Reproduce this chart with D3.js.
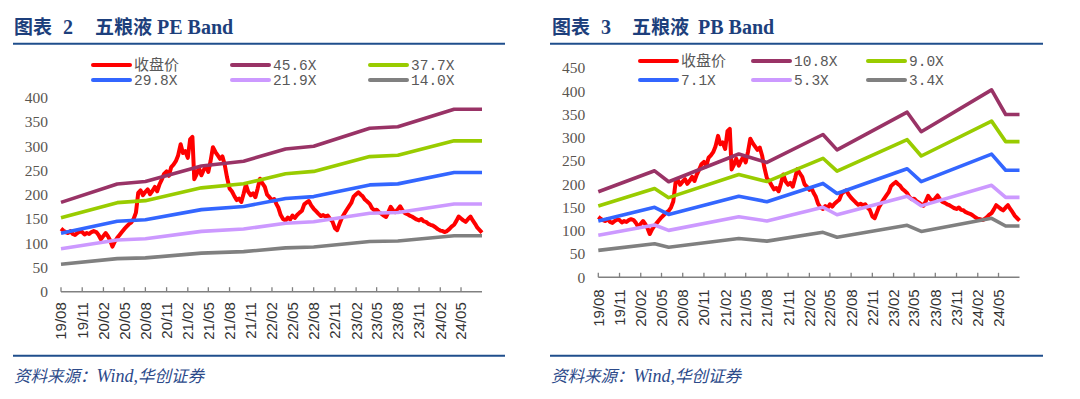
<!DOCTYPE html>
<html>
<head>
<meta charset="utf-8">
<script src="https://cdn.jsdelivr.net/npm/d3@7"></script>
<style>
  body { margin: 0; background: #fff; }
  svg { display: block; }
</style>
</head>
<body>
<svg id="chart" width="1080" height="399"></svg>
<script>
// closing price, three readings a month (1st, 11th, 21st) and the last day
const closeStart = '2019-08-01';
const closeEnd = '2024-07-31';
const closePrice = [
  130, 126, 123, 121, 125, 119, 117, 121, 124, 123, 118, 121,
  119, 123, 125, 123, 117, 108, 115, 121, 114, 106, 93, 103,
  111, 117, 123, 129, 134, 139, 143, 150, 163, 204, 209, 199,
  206, 211, 201, 208, 216, 207, 221, 231, 243, 248, 239, 257,
  262, 269, 281, 304, 286, 290, 276, 314, 319, 232, 242, 255,
  240, 251, 259, 247, 270, 298, 288, 281, 274, 279, 262, 236,
  213, 207, 198, 189, 192, 185, 202, 221, 206, 199, 203, 195,
  213, 233, 224, 216, 200, 195, 188, 191, 180, 173, 158, 150,
  147, 153, 149, 157, 152, 158, 163, 167, 180, 184, 187, 178,
  171, 166, 161, 156, 158, 155, 157, 150, 145, 131, 127, 140,
  152, 160, 168, 176, 183, 196, 201, 205, 200, 197, 190, 186,
  181, 172, 168, 169, 164, 161, 157, 154, 164, 175, 168, 164,
  170, 176, 168, 162, 160, 157, 155, 152, 149, 147, 150, 145,
  144, 140, 138, 136, 133, 129, 126, 125, 123, 125, 129, 134,
  138, 146, 155, 151, 147, 144, 150, 155, 147, 140, 132, 127,
  122
];

// PE band: trailing EPS knots
const peEpsDates = ['2019-08-01', '2020-04-01', '2020-08-01', '2021-04-01', '2021-10-01',
  '2022-04-01', '2022-08-01', '2023-04-01', '2023-08-01', '2024-04-01', '2024-07-31'];
const peEps = [4.04, 4.87, 4.98, 5.68, 5.90, 6.45, 6.58, 7.39, 7.46, 8.25, 8.25];
const peMultiples = [45.6, 37.7, 29.8, 21.9, 14.0];

// PB band: book value per share knots
const pbBvpsDates = ['2019-08-01', '2020-04-01', '2020-06-01', '2021-04-01', '2021-08-01',
  '2022-04-01', '2022-06-01', '2023-04-01', '2023-06-01', '2024-04-01', '2024-06-01', '2024-07-31'];
const pbBvps = [17.04, 21.20, 19.03, 24.54, 22.87, 28.43, 25.37, 32.87, 28.98, 37.31, 32.41, 32.41];
const pbMultiples = [10.8, 9.0, 7.1, 5.3, 3.4];

const tickMonths = ['19/08', '19/11', '20/02', '20/05', '20/08', '20/11', '21/02', '21/05',
  '21/08', '21/11', '22/02', '22/05', '22/08', '22/11', '23/02', '23/05', '23/08', '23/11',
  '24/02', '24/05'];
const peTicks = [0, 50, 100, 150, 200, 250, 300, 350, 400];
const pbTicks = [0, 50, 100, 150, 200, 250, 300, 350, 400, 450];

const seriesColors = ['#ff0000', '#993366', '#99cc00', '#3366ff', '#cc99ff', '#808080'];
const priceLabel = '收盘价';

const parseDay = d3.timeParse('%Y-%m-%d');
const parseTick = d3.timeParse('%y/%m');
const start = parseDay(closeStart);

const closeData = closePrice.map((v, i) => {
  if (i === closePrice.length - 1) return { date: parseDay(closeEnd), value: v };
  const month = d3.timeMonth.offset(start, Math.floor(i / 3));
  return { date: d3.timeDay.offset(month, (i % 3) * 10), value: v };
});

const svg = d3.select('#chart');
const cjk = '"Noto Sans CJK SC", sans-serif';
const serif = '"Liberation Serif", "Times New Roman", serif';
const navy = '#1d3f7c';

function drawBand(cfg) {
  const g = svg.append('g');
  const x = d3.scaleTime()
    .domain([start, parseDay(closeEnd)])
    .range([cfg.x0, cfg.x1]);
  const y = d3.scaleLinear()
    .domain([0, d3.max(cfg.yTicks)])
    .range([cfg.y0, cfg.y1]);

  // title
  const title = g.append('text')
    .attr('y', 34)
    .attr('fill', navy)
    .attr('font-weight', 'bold');
  cfg.title.forEach((t) => {
    title.append('tspan')
      .attr('x', t.x)
      .attr('font-family', t.cjk ? cjk : serif)
      .attr('font-size', t.cjk ? 19 : 20)
      .text(t.text);
  });
  g.append('line')
    .attr('x1', cfg.ruleX0).attr('x2', cfg.ruleX1)
    .attr('y1', 43.7).attr('y2', 43.7)
    .attr('stroke', '#1f4e8c').attr('stroke-width', 2);
  g.append('line')
    .attr('x1', cfg.ruleX0).attr('x2', cfg.ruleX1)
    .attr('y1', 355.7).attr('y2', 355.7)
    .attr('stroke', '#1f4e8c').attr('stroke-width', 2);
  const src = g.append('text')
    .attr('x', cfg.ruleX0 + 1)
    .attr('y', 382)
    .attr('fill', '#2c4a8a')
    .attr('font-style', 'italic')
    .attr('font-size', 16.5);
  src.append('tspan').attr('font-family', cjk).text('资料来源：');
  src.append('tspan').attr('font-family', serif).attr('font-size', 18).text('Wind,');
  src.append('tspan').attr('font-family', cjk).text('华创证券');

  // y labels
  g.append('g').selectAll('text')
    .data(cfg.yTicks)
    .enter()
    .append('text')
    .attr('x', cfg.x0 - 13)
    .attr('y', d => y(d))
    .attr('dy', '0.35em')
    .attr('text-anchor', 'end')
    .attr('font-family', serif)
    .attr('font-size', 15.5)
    .attr('fill', '#5a5550')
    .text(d => d);

  // x axis
  g.append('line')
    .attr('x1', cfg.x0).attr('x2', cfg.x1)
    .attr('y1', cfg.y0).attr('y2', cfg.y0)
    .attr('stroke', '#808080').attr('stroke-width', 1.5);
  const ticks = tickMonths.map(parseTick);
  g.append('g').selectAll('line')
    .data(ticks)
    .enter()
    .append('line')
    .attr('x1', d => x(d)).attr('x2', d => x(d))
    .attr('y1', cfg.y0).attr('y2', cfg.y0 - 4.5)
    .attr('stroke', '#808080').attr('stroke-width', 1.3);
  g.append('g').selectAll('text')
    .data(ticks)
    .enter()
    .append('text')
    .attr('transform', d => `translate(${x(d)},${cfg.y0 + cfg.labelGap}) rotate(-90)`)
    .attr('dy', '0.36em')
    .attr('text-anchor', 'end')
    .attr('font-family', '"Liberation Sans", Arial, sans-serif')
    .attr('font-size', 15)
    .attr('fill', '#333')
    .text((d, i) => tickMonths[i]);

  // price first, bands on top (series order)
  const line = d3.line()
    .x(d => x(d.date))
    .y(d => y(d.value));
  g.append('path')
    .datum(closeData)
    .attr('d', line)
    .attr('fill', 'none')
    .attr('stroke', seriesColors[0])
    .attr('stroke-width', 4)
    .attr('stroke-linejoin', 'round');

  const knots = cfg.baseDates.map((d, i) => ({ date: parseDay(d), base: cfg.base[i] }));
  cfg.multiples.forEach((m, k) => {
    g.append('path')
      .datum(knots.map(p => ({ date: p.date, value: p.base * m })))
      .attr('d', line)
      .attr('fill', 'none')
      .attr('stroke', seriesColors[k + 1])
      .attr('stroke-width', 3.6)
      .attr('stroke-linejoin', 'round');
  });

  // legend
  const labels = [priceLabel].concat(cfg.multiples.map(m => `${m.toFixed(1)}X`));
  const legend = g.append('g').selectAll('g')
    .data(labels)
    .enter()
    .append('g')
    .attr('transform', (d, i) => `translate(${cfg.legendX[i % 3]},${cfg.legendY[Math.floor(i / 3)]})`);
  legend.append('line')
    .attr('x1', 0).attr('x2', 37)
    .attr('stroke', (d, i) => seriesColors[i])
    .attr('stroke-width', 4)
    .attr('stroke-linecap', 'round');
  legend.append('text')
    .attr('x', 41)
    .attr('dy', '0.36em')
    .attr('font-family', (d, i) => (i === 0 ? cjk : '"Liberation Mono", monospace'))
    .attr('font-size', (d, i) => (i === 0 ? 15 : 14.5))
    .attr('fill', '#595959')
    .text(d => d);
}

drawBand({
  title: [
    { text: '图表', x: 14, cjk: true },
    { text: '2', x: 63 },
    { text: '五粮液', x: 95, cjk: true },
    { text: 'PE Band', x: 157 }
  ],
  ruleX0: 13,
  ruleX1: 505,
  x0: 61,
  x1: 482,
  y0: 291.7,
  y1: 97.7,
  labelGap: 10.5,
  yTicks: peTicks,
  baseDates: peEpsDates,
  base: peEps,
  multiples: peMultiples,
  legendX: [93, 232, 370],
  legendY: [65, 80]
});

drawBand({
  title: [
    { text: '图表', x: 552, cjk: true },
    { text: '3', x: 601 },
    { text: '五粮液', x: 632, cjk: true },
    { text: 'PB Band', x: 698 }
  ],
  ruleX0: 550,
  ruleX1: 1043,
  x0: 598.3,
  x1: 1019.5,
  y0: 277.3,
  y1: 68,
  labelGap: 12,
  yTicks: pbTicks,
  baseDates: pbBvpsDates,
  base: pbBvps,
  multiples: pbMultiples,
  legendX: [640, 753, 868],
  legendY: [61, 80]
});
</script>
</body>
</html>
